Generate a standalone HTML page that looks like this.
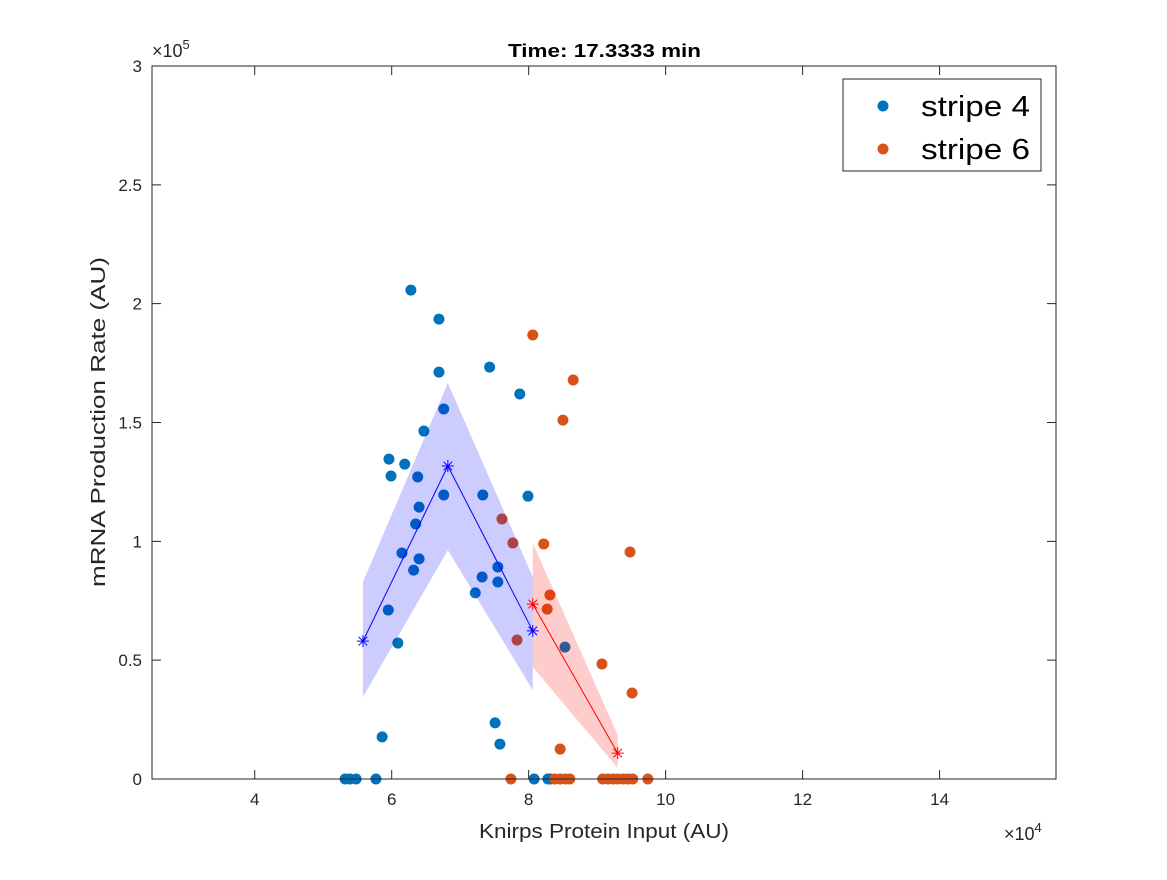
<!DOCTYPE html>
<html><head><meta charset="utf-8"><style>
body{margin:0;background:#fff;}
svg text{font-family:"Liberation Sans",sans-serif;fill:#262626;}
</style></head><body>
<svg id="chart" width="1167" height="875" xmlns="http://www.w3.org/2000/svg">
<rect width="1167" height="875" fill="#fff"/>
<g id="pts"></g>
<g id="shades"></g>
<g id="lines"></g>
<g id="axes"></g>
<text x="508" y="57" textLength="193" lengthAdjust="spacingAndGlyphs" font-size="18" font-weight="bold" style="fill:#000">Time: 17.3333 min</text>
<text transform="translate(105,422) rotate(-90)" text-anchor="middle" textLength="330" lengthAdjust="spacingAndGlyphs" font-size="20">mRNA Production Rate (AU)</text>
<text x="604" y="838" text-anchor="middle" textLength="250" lengthAdjust="spacingAndGlyphs" font-size="20">Knirps Protein Input (AU)</text>
<text x="152" y="57" font-size="18">×10<tspan dy="-8" font-size="13">5</tspan></text>
<text x="1004" y="840" font-size="18">×10<tspan dy="-8" font-size="13">4</tspan></text>
<g>
<rect x="843" y="79" width="198" height="92" fill="#fff" stroke="#262626" stroke-width="1"/>
<circle cx="883" cy="106" r="5.5" fill="#0072BD"/>
<text x="921" y="116" font-size="29" textLength="109" lengthAdjust="spacingAndGlyphs" style="fill:#000">stripe 4</text>
<circle cx="883" cy="149" r="5.5" fill="#D95319"/>
<text x="921" y="159" font-size="29" textLength="109" lengthAdjust="spacingAndGlyphs" style="fill:#000">stripe 6</text>
</g>
</svg>
<script>
const NS='http://www.w3.org/2000/svg';
const s4x=[6.28,6.69,6.69,7.43,7.87,6.76,6.47,5.96,6.19,5.99,6.38,6.76,7.33,7.99,6.40,6.35,6.15,6.40,6.32,5.95,6.09,7.32,7.55,7.55,7.22,8.53,7.51,7.58,5.86,5.32,5.39,5.48,5.77,8.08,8.28,8.32];
const s4y=[2.057,1.935,1.712,1.733,1.62,1.557,1.464,1.346,1.325,1.275,1.271,1.195,1.195,1.19,1.144,1.073,0.951,0.926,0.879,0.711,0.572,0.85,0.892,0.829,0.783,0.555,0.236,0.147,0.177,0,0,0,0,0,0,0];
const s6x=[8.06,8.65,8.50,7.61,7.77,8.22,9.48,8.31,8.27,7.83,9.07,9.51,8.46,7.74,8.38,8.46,8.54,8.60,9.08,9.16,9.23,9.30,9.38,9.45,9.52,9.74];
const s6y=[1.868,1.679,1.51,1.094,0.993,0.989,0.955,0.774,0.715,0.585,0.484,0.362,0.126,0,0,0,0,0,0,0,0,0,0,0,0,0];
const m4x=[5.58,6.82,8.06], m4y=[0.58,1.317,0.623], m4lo=[0.345,0.963,0.374], m4hi=[0.829,1.666,0.85];
const m6x=[8.06,9.30], m6y=[0.736,0.109], m6lo=[0.471,0.046], m6hi=[0.993,0.185];
const xTicks=[4,6,8,10,12,14], yTicks=[0,0.5,1,1.5,2,2.5,3];
const yTickLabels=['0','0.5','1','1.5','2','2.5','3'];
const X0=152,X1=1056,Y0=779,Y1=66,xmin=2.5,xmax=15.7,ymin=0,ymax=3;
const sx=v=>X0+(v-xmin)/(xmax-xmin)*(X1-X0);
const sy=v=>Y0-(v-ymin)/(ymax-ymin)*(Y0-Y1);
function mk(t,a,p){const e=document.createElementNS(NS,t);for(const k in a)e.setAttribute(k,a[k]);p.appendChild(e);return e;}
const pts=document.getElementById('pts');
s4x.forEach((v,i)=>{const c=mk('circle',{cx:sx(v),cy:sy(s4y[i]),r:5.5,fill:'#0072BD'},pts);

});
s6x.forEach((v,i)=>{const c=mk('circle',{cx:sx(v),cy:sy(s6y[i]),r:5.5,fill:'#D95319'},pts);

});
const sh=document.getElementById('shades'),ln=document.getElementById('lines');
function band(xs,lo,hi,col,nm){let p=xs.map((v,i)=>sx(v)+','+sy(hi[i]));for(let i=xs.length-1;i>=0;i--)p.push(sx(xs[i])+','+sy(lo[i]));
const e=mk('polygon',{points:p.join(' '),fill:col,'fill-opacity':0.2},sh);

}
band(m4x,m4lo,m4hi,'#0000FF','stripe4-error-band');
band(m6x,m6lo,m6hi,'#FF0000','stripe6-error-band');
function mline(xs,ys,col,nm){const e=mk('polyline',{points:xs.map((v,i)=>sx(v)+','+sy(ys[i])).join(' '),fill:'none',stroke:col,'stroke-width':1},ln);


xs.forEach((v,i)=>{const x=sx(v),y=sy(ys[i]),r=6;const g=mk('path',{d:`M${x-r},${y}H${x+r}M${x},${y-r}V${y+r}M${x-4.3},${y-4.3}L${x+4.3},${y+4.3}M${x-4.3},${y+4.3}L${x+4.3},${y-4.3}`,stroke:col,'stroke-width':1,fill:'none'},ln);

});}
mline(m4x,m4y,'#0000FF','stripe4-mean-line');
mline(m6x,m6y,'#FF0000','stripe6-mean-line');
const ax=document.getElementById('axes');
mk('rect',{x:X0,y:Y1,width:X1-X0,height:Y0-Y1,fill:'none',stroke:'#262626','stroke-width':1},ax);
xTicks.forEach(v=>{const x=sx(v);
mk('path',{d:`M${x},${Y0}V${Y0-9}M${x},${Y1}V${Y1+9}`,stroke:'#262626'},ax);
const t=mk('text',{x:x,y:Y0+26,'text-anchor':'middle','font-size':17},ax);t.textContent=v;

});
yTicks.forEach((v,i)=>{const y=sy(v);
mk('path',{d:`M${X0},${y}H${X0+9}M${X1},${y}H${X1-9}`,stroke:'#262626'},ax);
const t=mk('text',{x:X0-10,y:y+6,'text-anchor':'end','font-size':17},ax);t.textContent=yTickLabels[i];

});
</script>
</body></html>
